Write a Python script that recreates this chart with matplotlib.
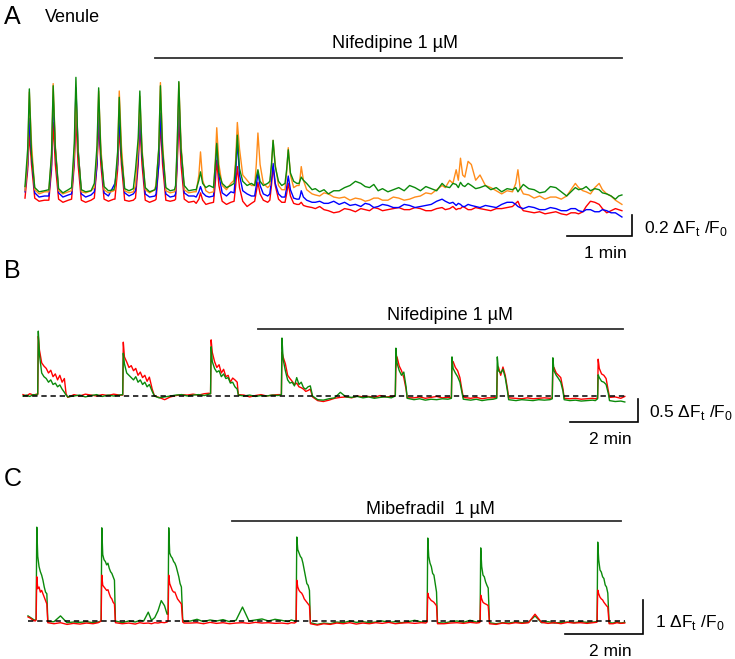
import matplotlib
matplotlib.use('Agg')
import matplotlib.pyplot as plt

# ---------------- data (time in s, signal in dF/F0) ----------------
# Panel A: venule, four cells, nifedipine 1 uM
a_time = [0, 2.5, 4, 6, 9, 13, 18,
          22, 24.5, 26, 28, 31, 35, 40,
          43, 45.5, 47, 49, 52, 56, 61,
          64, 66.5, 68, 70, 73, 77, 82,
          83, 85.5, 87, 89, 92, 96, 100,
          102, 104.5, 106, 108, 111, 115, 120,
          121, 123.5, 125, 127, 130, 134, 138,
          139, 140.5, 142, 144, 147, 151, 156,
          158, 160.5, 162, 164, 167, 170,
          174, 175.5, 177, 179, 182, 186, 190,
          193, 194.5, 196, 198, 201, 205, 209,
          212, 213.5, 215, 217, 220, 224,
          226, 227.5, 229, 231, 234, 237,
          240, 241.5, 243, 245, 248, 251,
          253, 254, 255, 257, 260, 265,
          268, 272, 276, 280, 285, 290, 295, 300, 305, 310,
          314, 318, 322, 326, 330, 335, 340, 345, 350, 355,
          360, 365, 370, 375, 380, 385, 388, 392, 395, 398,
          400, 402, 404, 406, 409, 412, 416, 420, 425, 430,
          435, 440, 445, 450, 453, 455, 457, 460, 465, 470,
          475, 480, 485, 490, 495, 500, 504, 508, 511, 515,
          518, 522, 526, 530, 533, 537, 541, 545, 548, 551]
a_green = [0.09, 0.45, 1.02, 0.40, 0.08, 0.04, 0.05,
           0.06, 0.40, 1.05, 0.45, 0.07, 0.03, 0.06,
           0.08, 0.50, 1.13, 0.42, 0.06, 0.04, 0.05,
           0.12, 0.48, 1.03, 0.40, 0.09, 0.05, 0.06,
           0.10, 0.42, 0.94, 0.38, 0.07, 0.05, 0.07,
           0.25, 0.55, 1.00, 0.42, 0.08, 0.04, 0.06,
           0.10, 0.46, 1.05, 0.44, 0.08, 0.05, 0.06,
           0.10, 0.50, 1.09, 0.45, 0.10, 0.05, 0.06,
           0.06, 0.15, 0.23, 0.12, 0.08, 0.10,
           0.08, 0.28, 0.50, 0.22, 0.12, 0.08, 0.10,
           0.12, 0.30, 0.58, 0.26, 0.14, 0.10, 0.12,
           0.10, 0.18, 0.25, 0.14, 0.10, 0.12,
           0.14, 0.30, 0.53, 0.28, 0.14, 0.10,
           0.12, 0.25, 0.44, 0.22, 0.14, 0.12,
           0.12, 0.15, 0.18, 0.15, 0.12, 0.06,
           0.07, 0.04, 0.06, 0.02, 0.05, 0.05, 0.08, 0.10, 0.14, 0.12,
           0.09, 0.08, 0.11, 0.05, 0.07, 0.04, 0.06, 0.08, 0.05, 0.10,
           0.08, 0.05, 0.09, 0.07, 0.05, 0.12, 0.09, 0.08, 0.12, 0.11,
           0.08, 0.13, 0.10, 0.09, 0.12, 0.10, 0.07, 0.08, 0.10, 0.06,
           0.08, 0.04, 0.07, 0.06, 0.08, 0.04, 0.07, 0.11, 0.07, 0.06,
           0.03, 0.04, 0.09, 0.08, 0.04, 0.00, 0.04, 0.08, 0.06, 0.07,
           0.09, 0.05, 0.07, 0.06, 0.03, 0.02, 0.00, -0.03, 0.00, 0.01]
a_orange = [0.05, 0.35, 0.99, 0.50, 0.06, 0.02, 0.04,
            0.04, 0.38, 1.07, 0.48, 0.05, 0.02, 0.04,
            0.05, 0.40, 0.98, 0.45, 0.04, 0.03, 0.05,
            0.08, 0.40, 1.00, 0.46, 0.06, 0.03, 0.05,
            0.06, 0.38, 1.00, 0.48, 0.05, 0.03, 0.04,
            0.10, 0.45, 0.95, 0.46, 0.06, 0.03, 0.06,
            0.12, 0.44, 1.08, 0.50, 0.05, 0.03, 0.04,
            0.06, 0.45, 1.08, 0.50, 0.06, 0.03, 0.04,
            0.04, 0.20, 0.42, 0.15, 0.05, 0.03,
            0.04, 0.30, 0.65, 0.30, 0.10, 0.06, 0.12,
            0.15, 0.35, 0.70, 0.45, 0.20, 0.15, 0.10,
            0.10, 0.30, 0.60, 0.30, 0.12, 0.08,
            0.10, 0.28, 0.53, 0.30, 0.10, 0.06,
            0.06, 0.22, 0.46, 0.20, 0.08, 0.10,
            0.10, 0.18, 0.28, 0.15, 0.06, 0.02,
            0.01, 0.00, 0.03, 0.02, -0.01, -0.02, -0.01, -0.04, -0.02, -0.03,
            -0.05, -0.04, -0.02, -0.02, -0.04, -0.04, -0.01, -0.02, -0.04, -0.03,
            -0.01, 0.00, 0.03, 0.02, 0.06, 0.10, 0.08, 0.15, 0.12, 0.25,
            0.15, 0.36, 0.20, 0.18, 0.33, 0.30, 0.15, 0.20, 0.10, 0.08,
            0.05, 0.02, 0.05, 0.04, 0.12, 0.25, 0.08, 0.02, 0.01, -0.02,
            0.00, -0.03, -0.01, -0.01, -0.03, 0.00, 0.06, 0.12, 0.08, 0.05,
            0.04, 0.02, 0.08, 0.12, 0.06, 0.02, 0.00, -0.04, -0.06, -0.08]
a_blue = [0.04, 0.30, 0.74, 0.40, 0.03, -0.01, 0.00,
          0.00, 0.30, 0.94, 0.45, 0.03, -0.01, 0.01,
          0.02, 0.35, 1.03, 0.45, 0.02, -0.01, 0.01,
          0.04, 0.30, 0.82, 0.40, 0.03, 0.00, 0.10,
          0.12, 0.30, 0.75, 0.40, 0.03, 0.00, 0.02,
          0.05, 0.35, 0.77, 0.40, 0.02, -0.01, 0.00,
          0.02, 0.30, 0.79, 0.40, 0.02, -0.01, 0.00,
          0.02, 0.35, 0.94, 0.45, 0.03, 0.00, 0.00,
          -0.01, 0.04, 0.09, 0.03, 0.00, -0.01,
          0.00, 0.20, 0.51, 0.20, 0.03, 0.00, 0.04,
          0.03, 0.22, 0.53, 0.20, 0.05, 0.02, 0.00,
          0.00, 0.10, 0.22, 0.10, 0.02, 0.00,
          0.02, 0.15, 0.31, 0.12, 0.02, -0.01,
          -0.01, 0.08, 0.19, 0.06, -0.02, -0.03,
          -0.03, 0.00, 0.05, -0.01, -0.04, -0.06,
          -0.06, -0.05, -0.07, -0.07, -0.05, -0.08, -0.06, -0.09, -0.08, -0.10,
          -0.07, -0.08, -0.11, -0.10, -0.08, -0.09, -0.11, -0.11, -0.08, -0.09,
          -0.11, -0.10, -0.09, -0.08, -0.05, -0.03, -0.05, -0.07, -0.06, -0.09,
          -0.07, -0.08, -0.10, -0.10, -0.08, -0.09, -0.10, -0.11, -0.09, -0.10,
          -0.11, -0.08, -0.06, -0.06, -0.08, -0.10, -0.11, -0.12, -0.10, -0.11,
          -0.13, -0.13, -0.11, -0.12, -0.14, -0.14, -0.12, -0.12, -0.14, -0.15,
          -0.13, -0.13, -0.15, -0.15, -0.13, -0.14, -0.16, -0.16, -0.18, -0.20]
a_red = [-0.02, 0.25, 0.60, 0.30, -0.02, -0.05, -0.04,
         -0.04, 0.25, 0.70, 0.30, -0.03, -0.06, -0.04,
         -0.03, 0.30, 0.75, 0.30, -0.04, -0.06, -0.04,
         -0.02, 0.30, 0.70, 0.30, -0.03, -0.05, -0.03,
         -0.03, 0.25, 0.65, 0.30, -0.04, -0.05, -0.04,
         -0.02, 0.30, 0.70, 0.30, -0.04, -0.06, -0.04,
         -0.03, 0.30, 0.70, 0.30, -0.04, -0.05, -0.04,
         -0.03, 0.30, 0.75, 0.30, -0.03, -0.06, -0.05,
         -0.07, -0.03, 0.03, -0.04, -0.08, -0.07,
         -0.06, 0.10, 0.34, 0.10, -0.05, -0.08, -0.06,
         -0.05, 0.10, 0.28, 0.08, -0.05, -0.10, -0.07,
         -0.05, 0.04, 0.13, 0.02, -0.04, -0.06,
         -0.04, 0.10, 0.28, 0.10, -0.03, -0.06,
         -0.06, 0.02, 0.12, 0.00, -0.07, -0.08,
         -0.08, -0.07, -0.06, -0.09, -0.10, -0.11,
         -0.12, -0.10, -0.13, -0.14, -0.16, -0.15, -0.12, -0.13, -0.15, -0.12,
         -0.13, -0.14, -0.11, -0.12, -0.14, -0.13, -0.12, -0.11, -0.13, -0.13,
         -0.11, -0.12, -0.14, -0.14, -0.12, -0.11, -0.13, -0.12, -0.10, -0.13,
         -0.12, -0.12, -0.10, -0.11, -0.13, -0.13, -0.11, -0.12, -0.13, -0.14,
         -0.12, -0.12, -0.11, -0.10, -0.07, -0.05, -0.10, -0.14, -0.15, -0.16,
         -0.15, -0.17, -0.16, -0.15, -0.17, -0.18, -0.16, -0.16, -0.17, -0.15,
         -0.10, -0.05, -0.06, -0.08, -0.12, -0.16, -0.14, -0.12, -0.13, -0.14]
a_drug = (120, 551)

# Panel B: two cells, nifedipine 1 uM
b_time = [0, 6, 12, 18, 24,
          26, 27, 29, 33, 37, 41, 45, 49, 53, 57, 61, 65, 69, 73, 76, 79,
          90, 100, 110, 120, 130, 140, 150, 160, 170,
          176, 177, 179, 183, 187, 191, 195, 199, 203, 207, 211, 215, 219, 223, 228, 232,
          240, 250, 260, 270, 280, 290, 300, 310, 320, 328,
          331, 332, 334, 338, 342, 346, 350, 354, 358, 362, 366, 370, 374, 378, 380,
          390, 400, 410, 420, 430, 440, 450,
          456, 457, 459, 463, 467, 471, 475, 479, 483, 487, 491, 495, 499, 503, 507, 511,
          520, 530, 540, 550, 560, 570, 580, 590, 600, 610, 620, 630, 640, 650,
          657, 658, 660, 664, 668, 672, 676, 678,
          690, 700, 710, 720, 730, 740, 750,
          756, 757, 759, 763, 767, 771, 775, 777,
          790, 800, 810, 820, 830,
          836, 837, 839, 843, 847, 851, 855, 857,
          870, 880, 890, 900, 910, 920, 930,
          934, 935, 937, 941, 945, 949, 953, 955,
          965, 975, 985, 995, 1005, 1010,
          1014, 1015, 1017, 1021, 1025, 1029, 1033, 1035,
          1045, 1055, 1062]
b_green = [0.00, 0.02, -0.01, 0.03, 0.02,
           0.05, 1.41, 0.90, 0.50, 0.42, 0.38, 0.30, 0.35, 0.25, 0.28, 0.20, 0.24, 0.15, 0.08, 0.02, -0.02,
           0.00, 0.02, -0.02, 0.01, 0.03, -0.01, 0.02, 0.00, 0.02,
           0.03, 0.93, 0.70, 0.50, 0.45, 0.40, 0.35, 0.42, 0.30, 0.35, 0.25, 0.30, 0.20, 0.25, 0.10, 0.00,
           -0.04, -0.02, 0.00, 0.02, 0.03, 0.00, 0.02, 0.03, 0.01, 0.04,
           0.05, 1.07, 0.75, 0.60, 0.52, 0.55, 0.42, 0.48, 0.38, 0.40, 0.28, 0.30, 0.20, 0.15, 0.02,
           0.00, 0.02, -0.01, 0.01, 0.00, 0.02, 0.01,
           0.03, 1.26, 0.80, 0.55, 0.35, 0.28, 0.30, 0.22, 0.40, 0.25, 0.30, 0.18, 0.15, 0.20, 0.22, 0.00,
           -0.08, -0.09, -0.06, -0.04, 0.08, -0.02, -0.03, -0.01, -0.04, -0.02, -0.05, -0.03, -0.02, -0.04,
           0.00, 1.04, 0.72, 0.55, 0.45, 0.52, 0.20, -0.05,
           -0.08, -0.06, -0.09, -0.07, -0.08, -0.06, -0.07,
           -0.05, 0.85, 0.60, 0.50, 0.42, 0.30, 0.05, -0.07,
           -0.09, -0.07, -0.10, -0.08, -0.07,
           -0.05, 0.85, 0.55, 0.50, 0.58, 0.40, 0.10, -0.08,
           -0.10, -0.08, -0.09, -0.10, -0.08, -0.09, -0.08,
           -0.06, 0.83, 0.55, 0.45, 0.38, 0.30, 0.10, -0.08,
           -0.10, -0.09, -0.11, -0.10, -0.09, -0.10,
           -0.06, 0.46, 0.40, 0.32, 0.30, 0.25, 0.05, -0.10,
           -0.12, -0.11, -0.13]
b_red = [0.03, 0.00, 0.05, 0.02, 0.04,
         0.03, 1.30, 1.00, 0.72, 0.65, 0.60, 0.50, 0.56, 0.42, 0.48, 0.35, 0.45, 0.30, 0.38, 0.05, -0.03,
         0.03, 0.00, 0.04, 0.02, 0.00, 0.03, 0.01, 0.04, 0.02,
         0.02, 1.17, 0.85, 0.74, 0.62, 0.66, 0.55, 0.60, 0.45, 0.52, 0.40, 0.45, 0.32, 0.41, 0.15, 0.00,
         -0.03, -0.08, -0.02, 0.01, 0.03, 0.02, 0.04, 0.02, 0.05, 0.06,
         0.05, 1.22, 0.95, 0.75, 0.62, 0.68, 0.50, 0.58, 0.42, 0.45, 0.30, 0.39, 0.35, 0.30, 0.03,
         0.02, -0.02, 0.01, 0.03, 0.00, 0.02, 0.03,
         0.03, 0.96, 0.85, 0.70, 0.45, 0.38, 0.32, 0.25, 0.28, 0.20, 0.18, 0.15, 0.10, 0.12, 0.15, -0.02,
         -0.10, -0.12, -0.09, -0.05, -0.03, -0.02, -0.04, 0.00, -0.02, -0.01, -0.03, 0.01, -0.02, -0.01,
         0.00, 0.60, 0.85, 0.65, 0.55, 0.40, 0.15, -0.04,
         -0.04, -0.02, -0.05, -0.03, -0.01, -0.04, -0.03,
         -0.03, 0.70, 0.75, 0.62, 0.55, 0.40, 0.10, -0.03,
         -0.05, -0.03, -0.06, -0.04, -0.04,
         -0.03, 0.55, 0.63, 0.45, 0.63, 0.45, 0.15, -0.04,
         -0.05, -0.06, -0.04, -0.06, -0.05, -0.04, -0.05,
         -0.04, 0.60, 0.62, 0.50, 0.45, 0.40, 0.15, -0.05,
         -0.06, -0.05, -0.07, -0.06, -0.05, -0.06,
         -0.04, 0.80, 0.60, 0.48, 0.45, 0.38, 0.10, -0.03,
         -0.02, -0.05, -0.01]
b_drug = (415, 1059)

# Panel C: two cells, mibefradil 1 uM
c_time = [0, 4, 8, 11,
          12.5, 13.5, 15, 17, 19, 21, 23, 25, 27, 29, 30.5,
          40, 50, 60, 70, 80, 90, 100, 108,
          112.5, 113.5, 115, 117, 119, 121, 123, 125, 127, 129, 131, 133, 134.5,
          145, 155, 165, 172, 178, 185, 190, 195, 200, 205, 210, 214,
          215.5, 216.5, 218, 220, 222, 224, 226, 228, 230, 232, 234, 236, 238, 240,
          250, 260, 270, 280, 290, 300, 310, 320, 330, 340, 350, 360, 370, 380, 390, 400, 405, 410,
          412.5, 413.5, 415, 417, 419, 421, 423, 425, 427, 429, 431, 433, 434.5,
          445, 455, 465, 475, 485, 495, 505, 515, 525, 535, 545, 555, 565, 575, 585, 595, 605, 612,
          614, 615, 616.5, 618.5, 620.5, 622.5, 624.5, 626.5, 628.5, 630,
          640, 650, 660, 670, 680, 690, 694,
          695.5, 696.5, 698, 700, 702, 704, 706, 708, 710,
          720, 730, 740, 750, 760, 770, 780, 790, 800, 810, 820, 830, 840, 850, 860, 870, 874,
          875.5, 876.5, 878, 880, 882, 884, 886, 888, 890, 892, 894,
          900, 906, 912, 918]
c_green = [0.15, 0.10, 0.05, 0.02,
           0.05, 2.76, 1.90, 1.60, 1.45, 1.35, 1.20, 1.00, 0.85, 0.80, -0.02,
           -0.02, 0.15, -0.05, -0.03, -0.04, -0.02, -0.05, -0.03,
           0.00, 2.74, 1.95, 1.80, 1.75, 1.65, 1.70, 1.55, 1.45, 1.40, 1.30, 1.20, 0.00,
           -0.05, 0.00, -0.03, 0.02, 0.00, 0.26, 0.02, 0.10, 0.30, 0.60, 0.45, 0.20,
           0.20, 2.74, 2.00, 1.90, 1.85, 1.75, 1.70, 1.60, 1.45, 1.30, 1.10, 1.00, 0.05, -0.02,
           0.00, 0.05, -0.02, 0.03, 0.00, 0.04, -0.02, 0.02, 0.41, 0.00, 0.03, 0.06, 0.00, 0.05, 0.02, -0.02, 0.03, 0.00,
           0.00, 2.47, 2.10, 2.00, 1.90, 1.85, 1.70, 1.50, 1.30, 1.10, 1.05, 0.90, -0.05,
           -0.10, -0.06, -0.08, -0.03, -0.05, 0.00, -0.04, -0.02, -0.05, -0.03, 0.00, -0.04, -0.02, -0.05, -0.02, 0.02, -0.03, -0.02,
           0.00, 2.44, 1.90, 1.70, 1.60, 1.40, 1.35, 1.10, 0.85, -0.05,
           -0.06, -0.02, 0.00, -0.04, 0.02, -0.03, -0.02,
           0.00, 2.15, 1.60, 1.35, 1.30, 1.15, 1.05, 0.97, -0.05,
           -0.08, -0.05, -0.06, -0.03, -0.05, -0.04, 0.15, -0.05, -0.02, -0.06, -0.04, -0.03, -0.05, -0.02, -0.04, -0.03, -0.02,
           0.00, 2.32, 1.80, 1.50, 1.44, 1.30, 1.25, 1.06, 1.00, 0.82, -0.05,
           -0.06, -0.03, -0.06, -0.04]
c_red = [0.12, 0.08, 0.02, 0.00,
         0.03, 1.30, 0.95, 1.00, 0.85, 0.90, 0.80, 0.70, 0.60, 0.50, -0.05,
         -0.08, -0.05, -0.10, -0.07, -0.09, -0.06, -0.08, -0.05,
         0.00, 1.35, 1.05, 1.00, 0.95, 0.90, 0.92, 0.80, 0.70, 0.65, 0.55, 0.50, -0.05,
         -0.08, -0.06, -0.09, -0.05, -0.07, -0.06, -0.08, -0.05, -0.06, -0.04, -0.05, -0.03,
         0.00, 1.35, 1.10, 1.00, 0.90, 0.85, 0.85, 0.75, 0.65, 0.60, 0.55, 0.50, -0.03, -0.06,
         -0.06, -0.05, -0.08, -0.04, -0.07, -0.05, -0.08, -0.06, -0.05, -0.07, -0.04, -0.06, -0.05, -0.07, -0.06, -0.08, -0.05, -0.06,
         -0.03, 1.20, 1.00, 0.90, 0.85, 0.82, 0.75, 0.65, 0.60, 0.55, 0.50, 0.45, -0.08,
         -0.12, -0.08, -0.10, -0.06, -0.08, -0.05, -0.09, -0.06, -0.08, -0.05, -0.07, -0.04, -0.08, -0.06, -0.05, -0.07, -0.05, -0.06,
         -0.03, 0.82, 0.70, 0.65, 0.60, 0.58, 0.55, 0.50, 0.45, -0.08,
         -0.08, -0.06, -0.05, -0.07, -0.04, -0.06, -0.05,
         -0.03, 0.76, 0.65, 0.55, 0.52, 0.50, 0.48, 0.45, -0.08,
         -0.10, -0.06, -0.08, -0.05, -0.07, -0.05, 0.20, -0.04, -0.07, -0.05, -0.08, -0.04, -0.06, -0.05, -0.07, -0.05, -0.04,
         -0.03, 0.91, 0.80, 0.70, 0.65, 0.62, 0.55, 0.50, 0.45, 0.41, -0.08,
         -0.08, -0.05, -0.07, -0.06]
c_drug = (314, 912)

for t, *vals in [(a_time, a_green, a_orange, a_blue, a_red),
                 (b_time, b_green, b_red), (c_time, c_green, c_red)]:
    for v in vals:
        assert len(v) == len(t), (len(t), len(v))

# ---------------- figure ----------------
plt.rcParams['font.family'] = ['Liberation Sans', 'DejaVu Sans']
plt.rcParams['mathtext.fontset'] = 'custom'
plt.rcParams['mathtext.rm'] = 'Liberation Sans'

W, H = 735, 659
fig = plt.figure(figsize=(W / 100, H / 100), dpi=100)

GREEN, ORANGE, BLUE, RED = '#0b8a0b', '#ff8c1a', '#0000ff', '#ff0000'
BAR = '#303030'


def panel(x0, spp, base, vpp, top, bot):
    # one axes per panel; pixel geometry sets the time/amplitude scales
    ax = fig.add_axes([0, 1 - bot / H, 1, (bot - top) / H])
    ax.set_xlim(-x0 * spp, (W - x0) * spp)
    ax.set_ylim((base - bot) * vpp, (base - top) * vpp)
    ax.axis('off')
    return ax, (lambda px: (px - x0) * spp), (lambda py: (base - py) * vpp)


def scalebar(ax, tx, ty, cx, cy, dt, dv):
    ax.plot([tx(cx) - dt, tx(cx), tx(cx)], [ty(cy), ty(cy), ty(cy) + dv],
            color='black', lw=1.2, solid_joinstyle='miter')


def ftext(x, y, s, size=12.5, ha='center'):
    fig.text(x / W, 1 - y / H, s, fontsize=size, ha=ha, va='center')


# --- A ---
axA, tA, vA = panel(25, 60 / 65, 196, 0.2 / 21, 25, 262)
axA.plot(a_time, a_red, color=RED, lw=1)
axA.plot(a_time, a_blue, color=BLUE, lw=1)
axA.plot(a_time, a_orange, color=ORANGE, lw=1)
axA.plot(a_time, a_green, color=GREEN, lw=1)
axA.plot(a_drug, [vA(58)] * 2, color=BAR, lw=1.3)
scalebar(axA, tA, vA, 632, 236, 60, 0.2)

# --- B ---
axB, tB, vB = panel(23, 120 / 68, 396, 0.5 / 23, 262, 455)
axB.plot(b_time, b_red, color=RED, lw=1)
axB.plot(b_time, b_green, color=GREEN, lw=1)
axB.plot([b_time[0], b_time[-1]], [0, 0], color='black', lw=1.1,
         ls=(0, (3.5, 2.5)), zorder=5)
axB.plot(b_drug, [vB(329)] * 2, color=BAR, lw=1.3)
scalebar(axB, tB, vB, 638, 422, 120, 0.5)

# --- C ---
axC, tC, vC = panel(28, 120 / 78, 621, 1 / 34, 462, 659)
axC.plot(c_time, c_green, color=GREEN, lw=1)
axC.plot(c_time, c_red, color=RED, lw=1)
axC.plot([c_time[0], c_time[-1]], [0, 0], color='black', lw=1.1,
         ls=(0, (3.5, 2.5)), zorder=5)
axC.plot(c_drug, [vC(521)] * 2, color=BAR, lw=1.3)
scalebar(axC, tC, vC, 643, 634, 120, 1)

# --- labels ---
ftext(4, 17, 'A', size=18, ha='left')
ftext(45, 18, 'Venule', size=13, ha='left')
ftext(395, 44, 'Nifedipine 1 \u00b5M', size=13)
ftext(644, 228, r'0.2 $\Delta$F$_{\rm t}$ /F$_{\rm 0}$', ha='left')
ftext(605, 254, '1 min')

ftext(4, 271, 'B', size=18, ha='left')
ftext(450, 316, 'Nifedipine 1 \u00b5M', size=13)
ftext(649, 412, r'0.5 $\Delta$F$_{\rm t}$ /F$_{\rm 0}$', ha='left')
ftext(610, 439, '2 min')

ftext(4, 479, 'C', size=18, ha='left')
ftext(430, 509, 'Mibefradil  1 \u00b5M', size=13)
ftext(655, 622, r'1 $\Delta$F$_{\rm t}$ /F$_{\rm 0}$', ha='left')
ftext(610, 651, '2 min')

fig.savefig('out.png', dpi=100)
